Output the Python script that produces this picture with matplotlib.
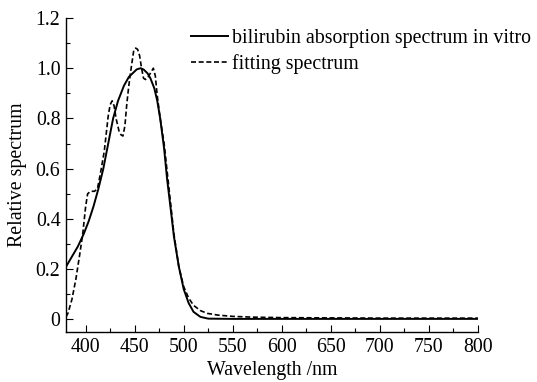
"""
Bilirubin absorption spectrum in vitro vs. fitting spectrum
"""

import numpy as np
import matplotlib
matplotlib.use("Agg")
import matplotlib.pyplot as plt
from matplotlib.ticker import MultipleLocator, FuncFormatter

# measured spectrum (solid)
wl_meas = [380, 386, 392, 398, 403, 408, 413, 418, 423, 428, 433, 439, 444, 448,
           452, 456, 459, 463, 466, 470, 473, 476, 480, 483, 487, 490, 495, 500,
           505, 510, 517, 525, 550, 600, 650, 700, 750, 800]
spec_meas = [0.21, 0.25, 0.29, 0.34, 0.39, 0.45, 0.52, 0.60, 0.70, 0.80, 0.87, 0.93,
             0.965, 0.98, 0.995, 1.0, 0.995, 0.98, 0.96, 0.92, 0.87, 0.80, 0.68, 0.56,
             0.43, 0.33, 0.21, 0.12, 0.065, 0.03, 0.01, 0.003, 0.002, 0.002, 0.002,
             0.002, 0.002, 0.002]

# fitting spectrum (dashed)
wl_fit = [380, 382, 386, 390, 394, 397, 400, 402, 405, 409, 412, 415, 419, 423, 425,
          427, 429, 431, 434, 436, 438, 440, 442, 444, 446, 449, 451, 453, 455, 457,
          459, 461, 463, 466, 469, 471, 473, 476, 480, 485, 490, 495, 500, 505, 510,
          517, 524, 535, 550, 570, 600, 650, 700, 750, 800]
spec_fit = [0.01, 0.025, 0.08, 0.16, 0.26, 0.34, 0.45, 0.50, 0.51, 0.51, 0.52, 0.58,
            0.67, 0.81, 0.855, 0.87, 0.85, 0.80, 0.75, 0.735, 0.73, 0.77, 0.86, 0.93,
            0.99, 1.07, 1.08, 1.075, 1.05, 1.0, 0.96, 0.955, 0.96, 0.98, 1.0, 0.97,
            0.89, 0.80, 0.70, 0.52, 0.34, 0.21, 0.13, 0.085, 0.056, 0.035, 0.024,
            0.017, 0.012, 0.009, 0.007, 0.006, 0.005, 0.005, 0.005]

plt.rcParams['font.family'] = ['Liberation Serif', 'DejaVu Serif']
fs = 14.3

fig = plt.figure(figsize=(5.37, 3.82), dpi=100)
ax = fig.add_axes([0.123, 0.131, 0.767, 0.822])

ax.plot(wl_meas, spec_meas, color='black', linewidth=1.4,
        label='bilirubin absorption spectrum in vitro')
ax.plot(wl_fit, spec_fit, color='black', linewidth=1.2, linestyle=(0, (3, 1.6)),
        label='fitting spectrum')

ax.set_xlim(380, 800)
ax.set_ylim(-0.05, 1.2)
ax.xaxis.set_major_locator(MultipleLocator(50))
ax.xaxis.set_minor_locator(MultipleLocator(25))
ax.yaxis.set_major_locator(MultipleLocator(0.2))
ax.yaxis.set_minor_locator(MultipleLocator(0.1))
ax.yaxis.set_major_formatter(FuncFormatter(lambda v, p: '0' if abs(v) < 1e-9 else '%.1f' % v))

for side in ('top', 'right'):
    ax.spines[side].set_visible(False)
for side in ('left', 'bottom'):
    ax.spines[side].set_linewidth(1.0)
ax.tick_params(which='both', direction='in', length=5, width=0.8)
ax.tick_params(which='minor', length=3)
ax.tick_params(axis='both', labelsize=fs, pad=4)

ax.set_xlabel('Wavelength /nm', fontsize=fs, labelpad=3)
ax.set_ylabel('Relative spectrum', fontsize=fs, labelpad=6)

ax.legend(loc='upper right', bbox_to_anchor=(1.004, 0.945), bbox_transform=fig.transFigure,
          frameon=False, handlelength=1.85, handletextpad=0.2, labelspacing=0.3,
          fontsize=fs, borderaxespad=0)

fig.savefig('out.png', dpi=100)
